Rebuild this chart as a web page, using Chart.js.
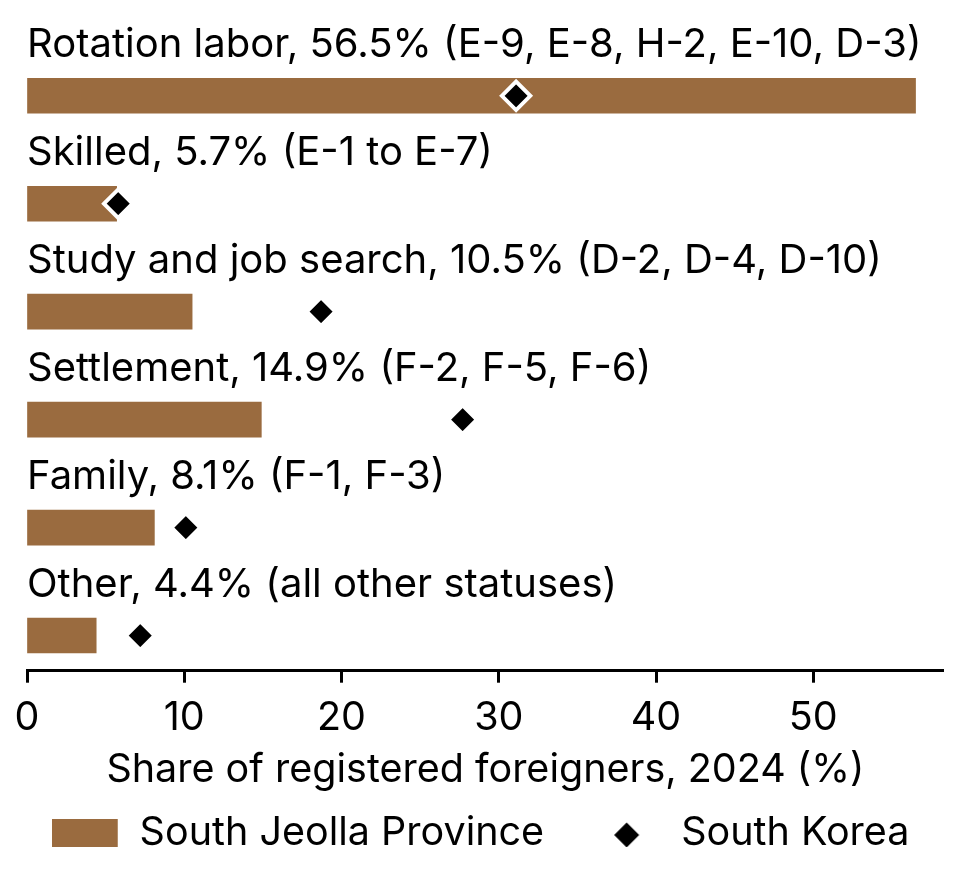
<!DOCTYPE html>
<html>
<head>
<meta charset="utf-8">
<script src="https://cdn.jsdelivr.net/npm/chart.js@4.4.1/dist/chart.umd.min.js"></script>
<style>
  html, body { margin: 0; padding: 0; background: #fff; }
  #wrap { width: 962px; height: 870px; }
</style>
</head>
<body>
<div id="wrap"><canvas id="chart"></canvas></div>
<script>
  /* Data */
  const categories = ['Rotation labor', 'Skilled', 'Study and job search', 'Settlement', 'Family', 'Other'];
  const visaCodes = ['E-9, E-8, H-2, E-10, D-3', 'E-1 to E-7', 'D-2, D-4, D-10', 'F-2, F-5, F-6', 'F-1, F-3', 'all other statuses'];
  const southJeolla = [56.5, 5.7, 10.5, 14.9, 8.1, 4.4];
  const southKorea = [31.1, 5.8, 18.7, 27.7, 10.1, 7.2];
  const xTicks = [0, 10, 20, 30, 40, 50];

  const BROWN = '#9A6B3F';
  const FONT = 'Inter';
  const SIZE = 39.5;

  const swatch = (draw) => {
    const c = document.createElement('canvas');
    c.width = 69;
    c.height = 28;
    draw(c.getContext('2d'));
    return c;
  };

  const barSwatch = swatch((ctx) => {
    ctx.fillStyle = BROWN;
    ctx.fillRect(0, 0, 66, 28);
  });

  const diamondSwatch = swatch((ctx) => {
    const cx = 33.4;
    ctx.fillStyle = '#000';
    ctx.beginPath();
    ctx.moveTo(cx - 12.5, 16);
    ctx.lineTo(cx, 16 - 12.5);
    ctx.lineTo(cx + 12.5, 16);
    ctx.lineTo(cx, 16 + 12.5);
    ctx.closePath();
    ctx.fill();
  });

  // category text sits above each bar
  const barLabels = {
    id: 'barLabels',
    afterDatasetsDraw(chart) {
      const { ctx, chartArea, scales } = chart;
      ctx.save();
      ctx.font = `40px ${FONT}`;
      ctx.fillStyle = '#000';
      ctx.textAlign = 'left';
      ctx.textBaseline = 'alphabetic';
      categories.forEach((name, i) => {
        const text = `${name}, ${southJeolla[i].toFixed(1)}% (${visaCodes[i]})`;
        ctx.fillText(text, chartArea.left, scales.y.getPixelForValue(i) - 38.5);
      });
      ctx.restore();
    },
  };

  // empty side axes only reserve margin, so the legend can use the full width
  const spacer = (position, width) => ({
    type: 'linear',
    position,
    display: true,
    ticks: { display: false },
    grid: { display: false },
    border: { display: false },
    afterFit: (scale) => { scale.width = width; },
  });

  new Chart(document.getElementById('chart'), {
    type: 'bar',
    data: {
      datasets: [
        {
          type: 'bar',
          label: 'South Jeolla Province',
          data: southJeolla.map((v, i) => ({ x: v, y: i })),
          backgroundColor: BROWN,
          barThickness: 35,
          order: 1,
        },
        {
          type: 'line',
          label: 'South Korea',
          data: southKorea.map((v, i) => ({ x: v, y: i })),
          showLine: false,
          pointStyle: 'rectRot',
          pointRadius: 14.25,
          pointHoverRadius: 14.25,
          pointBackgroundColor: '#000',
          pointBorderColor: '#fff',
          pointBorderWidth: 3.9,
          order: 0,
        },
      ],
    },
    options: {
      indexAxis: 'y',
      responsive: true,
      maintainAspectRatio: false,
      animation: false,
      layout: { padding: { left: 0, right: 0, top: 23, bottom: 7.25 } },
      scales: {
        x: {
          type: 'linear',
          min: 0,
          max: 58.3,
          afterBuildTicks: (scale) => {
            scale.ticks = xTicks.map((value) => ({ value }));
          },
          ticks: {
            font: { family: FONT, size: SIZE },
            color: '#000',
            padding: 12,
          },
          grid: {
            drawOnChartArea: false,
            drawTicks: true,
            tickLength: 12,
            tickWidth: 3,
            tickColor: '#000',
          },
          border: { color: '#000', width: 3 },
          title: {
            display: true,
            text: 'Share of registered foreigners, 2024 (%)',
            font: { family: FONT, size: SIZE },
            color: '#000',
            padding: { top: -7.75, bottom: -30.5 },
          },
        },
        y: {
          ...spacer('left', 27),
          reverse: true,
          offset: false,
          min: -0.674,
          max: 5.326,
        },
        yRight: spacer('right', 12),
      },
      plugins: {
        tooltip: { enabled: false },
        legend: {
          position: 'bottom',
          labels: {
            usePointStyle: true,
            pointStyleWidth: 67.25,
            boxHeight: 28,
            padding: 50,
            color: '#000',
            font: { family: FONT, size: SIZE },
            generateLabels: (chart) => chart.data.datasets.map((ds, i) => ({
              text: ds.label,
              pointStyle: i === 0 ? barSwatch : diamondSwatch,
              fillStyle: 'transparent',
              strokeStyle: 'transparent',
              lineWidth: 0,
              hidden: false,
              datasetIndex: i,
            })),
          },
        },
      },
    },
    plugins: [barLabels],
  });
</script>
</body>
</html>
